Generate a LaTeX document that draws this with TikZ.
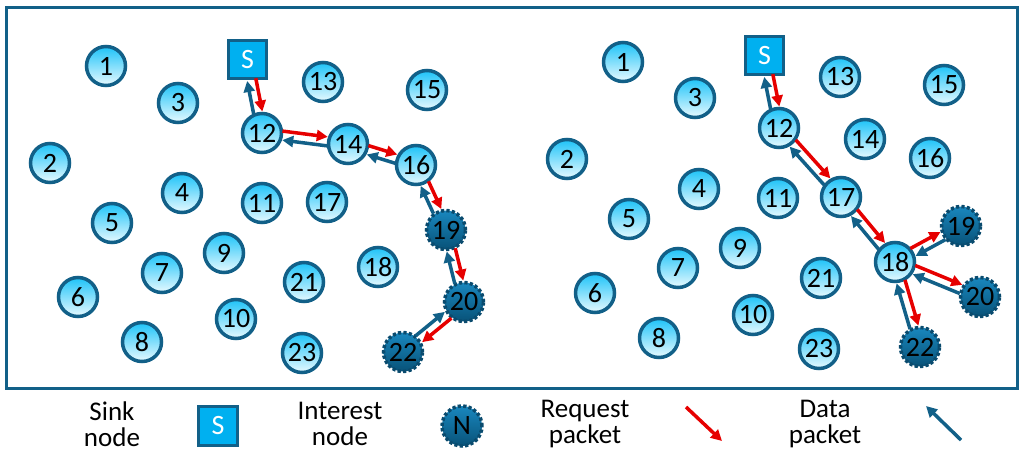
\documentclass[tikz,border=0pt]{standalone}
\usepackage{fontspec}
\setmainfont{Carlito}
\usetikzlibrary{calc,arrows.meta}
\definecolor{bd}{RGB}{18,96,136}
\definecolor{ltop}{RGB}{30,195,248}
\definecolor{lbot}{RGB}{232,250,255}
\definecolor{sq}{RGB}{0,176,240}
\definecolor{itop}{RGB}{25,135,190}
\definecolor{ibot}{RGB}{8,82,120}
\definecolor{ibd}{RGB}{10,75,110}
\definecolor{rq}{RGB}{230,0,0}
\newcommand{\pair}[2]{%
  \draw[req] ($(#1)!4.5pt!90:(#2)$) -- ($(#2)!4.5pt!-90:(#1)$);
  \draw[dat] ($(#2)!4.5pt!90:(#1)$) -- ($(#1)!4.5pt!-90:(#2)$);}
\begin{document}
\begin{tikzpicture}[x=1pt,y=-1pt,
  nd/.style={circle, draw=bd, line width=3.5pt, minimum size=39pt, inner sep=0pt,
    top color=ltop, bottom color=lbot, font=\fontsize{28}{28}\selectfont},
  intr/.style={circle, draw=ibd, line width=3.5pt, dash pattern=on 3.2pt off 2.2pt,
    minimum size=39pt, inner sep=0pt, top color=itop, bottom color=ibot,
    font=\fontsize{28}{28}\selectfont},
  sink/.style={rectangle, draw=bd, line width=3pt, minimum size=38pt, inner sep=0pt,
    fill=sq, text=white, font=\fontsize{28}{28}\selectfont},
  req/.style={draw=rq, line width=3.5pt, -{Triangle[length=11pt,width=11pt]},
    shorten <=20pt, shorten >=21pt},
  dat/.style={draw=bd, line width=3.5pt, -{Triangle[length=11pt,width=11pt]},
    shorten <=20pt, shorten >=21pt},
  lreq/.style={draw=rq, line width=3.5pt, -{Triangle[length=11pt,width=11pt]}},
  ldat/.style={draw=bd, line width=3.5pt, -{Triangle[length=11pt,width=11pt]}},
  lab/.style={align=center, font=\fontsize{27}{25.5}\selectfont, inner sep=0pt}
]
\useasboundingbox (0,0) rectangle (1024,452);
\node[draw=bd, line width=3pt, minimum width=1011pt, minimum height=380pt, inner sep=0pt] (frame) at (511.5,198) {};

% ---------- left panel ----------
\node[sink] (LS) at (247.5,59.5) {S};
\node[nd] (L1) at (106,66) {1};
\node[nd] (L2) at (50,163) {2};
\node[nd] (L3) at (178,103) {3};
\node[nd] (L4) at (182,193) {4};
\node[nd] (L5) at (112,223) {5};
\node[nd] (L6) at (78,297) {6};
\node[nd] (L7) at (162,273) {7};
\node[nd] (L8) at (142,342) {8};
\node[nd] (L9) at (224,253) {9};
\node[nd] (L10) at (236,319) {10};
\node[nd] (L11) at (262,203) {11};
\node[nd] (L12) at (262,133) {12};
\node[nd] (L13) at (323,82) {13};
\node[nd] (L14) at (348,144) {14};
\node[nd] (L15) at (427,90) {15};
\node[nd] (L16) at (416,165) {16};
\node[nd] (L17) at (327,202) {17};
\node[nd] (L18) at (378,267) {18};
\node[intr] (L19) at (446,230) {19};
\node[intr] (L20) at (464,302) {20};
\node[nd] (L21) at (304,282) {21};
\node[intr] (L22) at (403,352) {22};
\node[nd] (L23) at (302,353) {23};
\pair{LS}{L12}
\pair{L12}{L14}
\pair{L14}{L16}
\pair{L16}{L19}
\pair{L19}{L20}
\pair{L20}{L22}

% ---------- right panel ----------
\node[sink] (RS) at (764.5,55.5) {S};
\node[nd] (R1) at (623,62) {1};
\node[nd] (R2) at (567,159) {2};
\node[nd] (R3) at (695,98) {3};
\node[nd] (R4) at (699,189) {4};
\node[nd] (R5) at (629,219) {5};
\node[nd] (R6) at (595,293) {6};
\node[nd] (R7) at (678,268) {7};
\node[nd] (R8) at (659,338) {8};
\node[nd] (R9) at (740,248) {9};
\node[nd] (R10) at (753,315) {10};
\node[nd] (R11) at (778,198) {11};
\node[nd] (R12) at (779,128) {12};
\node[nd] (R13) at (840,77) {13};
\node[nd] (R14) at (865,139) {14};
\node[nd] (R15) at (944,85) {15};
\node[nd] (R16) at (930,158) {16};
\node[nd] (R17) at (841,197) {17};
\node[nd] (R18) at (895,262) {18};
\node[intr] (R19) at (961,226) {19};
\node[intr] (R20) at (980,297) {20};
\node[nd] (R21) at (821,278) {21};
\node[intr] (R22) at (920,347) {22};
\node[nd] (R23) at (819,349) {23};
\pair{RS}{R12}
\pair{R12}{R17}
\pair{R17}{R18}
\pair{R18}{R19}
\pair{R18}{R20}
\pair{R18}{R22}

% ---------- legend ----------
\node[lab] (t1) at (112,424) {Sink\\node};
\node[sink, minimum size=39pt] (kS) at (218,426) {S};
\node[lab] (t2) at (340,424) {Interest\\node};
\node[intr, minimum size=40pt] (kN) at (462,426) {N};
\node[lab] (t3) at (585,424) {Request\\packet};
\coordinate (ra) at (686,407);
\coordinate (rb) at (722,441);
\draw[lreq] (ra) -- (rb);
\node[lab] (t4) at (825,424) {Data\\packet};
\coordinate (da) at (961,440);
\coordinate (db) at (926,406);
\draw[ldat] (da) -- (db);
\end{tikzpicture}
\end{document}
